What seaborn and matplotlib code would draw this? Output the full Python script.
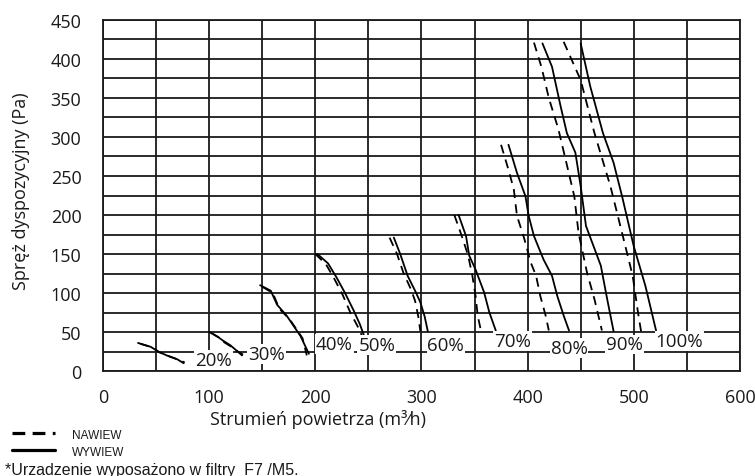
import numpy as np
import pandas as pd
import matplotlib
matplotlib.use("Agg")
import matplotlib.pyplot as plt
import seaborn as sns

# Curves: (airflow m3/h, pressure Pa)
# NAWIEW = supply (dashed), WYWIEW = exhaust (solid)
levels = ["20%", "30%", "40%", "50%", "60%", "70%", "80%", "90%", "100%"]

nawiew_x = [
    [35, 47, 53, 62, 72, 77],
    [102, 109, 114, 121, 128, 132],
    [150, 160, 166, 176, 188, 192],
    [200, 210, 218, 226, 233, 240, 244],
    [270, 277, 283, 290, 294, 297, 299],
    [331, 338, 344, 348, 351, 353, 356],
    [375, 382, 387, 390, 397, 403, 408, 412, 417, 420],
    [406, 413, 420, 429, 436, 444, 448, 456, 463, 470],
    [434, 450, 463, 478, 489, 499, 504, 507],
]
nawiew_y = [
    [35, 30, 24, 19, 14, 11],
    [49, 43, 37, 31, 24, 21],
    [108, 100, 80, 66, 42, 20],
    [150, 137, 118, 97, 75, 57, 45],
    [171, 150, 126, 105, 90, 70, 51],
    [200, 173, 148, 122, 96, 71, 52],
    [290, 258, 233, 199, 169, 139, 122, 96, 71, 52],
    [421, 390, 350, 310, 270, 224, 177, 126, 92, 52],
    [422, 373, 305, 237, 177, 122, 75, 50],
]
wywiew_x = [
    [33, 45, 52, 60, 70, 76],
    [100, 108, 113, 120, 126, 131],
    [148, 158, 164, 173, 186, 194],
    [202, 212, 220, 228, 236, 242, 246],
    [274, 280, 287, 294, 299, 303, 306],
    [335, 342, 345, 351, 359, 364, 370],
    [382, 390, 398, 401, 406, 415, 423, 428, 434, 439],
    [414, 423, 431, 437, 445, 450, 455, 469, 475, 481],
    [450, 459, 471, 481, 489, 500, 511, 521],
]
wywiew_y = [
    [36, 31, 25, 20, 15, 10],
    [50, 44, 39, 33, 26, 20],
    [110, 103, 85, 71, 45, 22],
    [150, 138, 120, 100, 78, 60, 45],
    [171, 150, 122, 103, 88, 70, 51],
    [200, 173, 148, 130, 101, 75, 52],
    [290, 254, 224, 199, 173, 143, 122, 96, 71, 52],
    [420, 390, 340, 305, 280, 237, 186, 135, 92, 51],
    [420, 365, 305, 267, 224, 160, 109, 52],
]

# where the % labels sit (data coords)
label_x = [104, 154, 218, 258, 323, 386, 439, 491, 543]
label_y = [14, 22, 35, 33, 33, 38, 29, 34, 39]

rows = []
for i, lv in enumerate(levels):
    for x, y in zip(nawiew_x[i], nawiew_y[i]):
        rows.append((lv, "NAWIEW", x, y))
    for x, y in zip(wywiew_x[i], wywiew_y[i]):
        rows.append((lv, "WYWIEW", x, y))
df = pd.DataFrame(rows, columns=["poziom", "tryb", "q", "p"])

sns.set_theme(style="white")
plt.rcParams["font.family"] = ["Open Sans", "DejaVu Sans"]

fig = plt.figure(figsize=(7.55, 4.77), dpi=100)
ax = fig.add_axes([0.1364, 0.2201, 0.8436, 0.7359])

ink = "#1a1a1a"
ax.set_xlim(0, 600)
ax.set_ylim(0, 450)
ax.set_xticks(np.arange(0, 601, 100))
ax.set_yticks(np.arange(0, 451, 50))
ax.set_xticks(np.arange(0, 601, 50), minor=True)
ax.set_yticks(np.arange(0, 451, 25), minor=True)
ax.grid(True, which="both", color=ink, linewidth=1.3)
ax.set_axisbelow(True)
ax.tick_params(axis="both", which="major", direction="out", length=4.5,
               width=1.3, color=ink, labelsize=13, labelcolor=ink)
ax.tick_params(axis="x", which="major", pad=8)
ax.tick_params(axis="y", which="major", pad=11)
ax.tick_params(axis="both", which="minor", length=0)
for s in ax.spines.values():
    s.set_color(ink)
    s.set_linewidth(1.3)

for i, lv in enumerate(levels):
    sub = df[df["poziom"] == lv]
    sns.lineplot(data=sub[sub["tryb"] == "NAWIEW"], x="q", y="p", sort=False,
                 estimator=None, color="black", linewidth=1.3, ax=ax,
                 linestyle=(0, (5, 3.5)))
    sns.lineplot(data=sub[sub["tryb"] == "WYWIEW"], x="q", y="p", sort=False,
                 estimator=None, color="black", linewidth=1.3, ax=ax)
    ax.text(label_x[i], label_y[i], lv, ha="center", va="center", fontsize=13.5,
            color=ink, zorder=5,
            bbox=dict(boxstyle="square,pad=0.05", fc="white", ec="none"))

ax.set_xlabel("")
ax.set_ylabel("")
fig.text(0.421, 0.121, "Strumień powietrza (m³⁄h)", fontsize=13, color=ink,
         ha="center", va="center")
fig.text(0.028, 0.6, "Spręż dyspozycyjny (Pa)", fontsize=13, color=ink,
         ha="center", va="center", rotation=90)

# legend outside, bottom-left
fig.add_artist(plt.Line2D([0.016, 0.073], [0.090, 0.090], color="black",
                          linewidth=2.3, linestyle=(0, (4, 2.3))))
fig.add_artist(plt.Line2D([0.016, 0.073], [0.054, 0.054], color="black",
                          linewidth=2.3))
fig.text(0.095, 0.087, "NAWIEW", fontsize=8.5, va="center", color=ink,
         family="Liberation Sans")
fig.text(0.095, 0.051, "WYWIEW", fontsize=8.5, va="center", color=ink,
         family="Liberation Sans")
fig.text(0.007, 0.014, "*Urzadzenie wyposażono w filtry  F7 /M5.", fontsize=11.5,
         va="center", color=ink, family="Liberation Sans")

fig.savefig("out.png", dpi=100)
